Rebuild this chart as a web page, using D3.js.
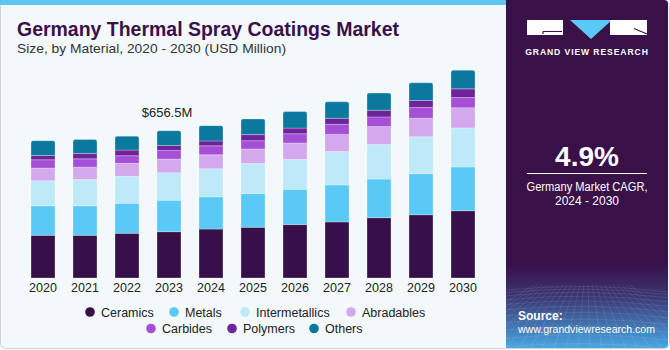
<!DOCTYPE html>
<html lang="en">
<head>
<meta charset="UTF-8">
<title>Germany Thermal Spray Coatings Market</title>
<script src="https://d3js.org/d3.v7.min.js"></script>
<style>
  body { margin: 0; background: #fff; }
  svg { display: block; font-family: "Liberation Sans", Arial, sans-serif; }
</style>
</head>
<body>
<div id="chart"></div>
<script>
// data (USD Million)
const years = ["2020", "2021", "2022", "2023", "2024", "2025", "2026", "2027", "2028", "2029", "2030"];
const seriesNames = ["Ceramics", "Metals", "Intermetallics", "Abradables", "Carbides", "Polymers", "Others"];
const ceramics       = [190, 190, 199, 206.5, 218, 226, 238, 250, 269, 282, 300];
const metals         = [132, 132, 134, 140, 144, 150, 157, 165, 172, 183, 195];
const intermetallics = [111, 117, 120, 123, 125, 134, 134, 149, 154, 164, 174];
const abradables     = [57, 55, 58, 61, 62, 65, 73, 76, 80, 83, 90];
const carbides       = [37, 37, 34, 38, 40, 37, 41, 45, 43, 48, 45];
const polymers       = [19, 24, 25, 22, 22, 27, 25, 27, 30, 31, 39];
const others         = [66, 62, 62, 66, 68, 70, 74, 73, 76, 79, 83];
const colors = ["#371049", "#5bc9f5", "#bde9f9", "#d4a8ec", "#a44fd6", "#6e2399", "#0b789e"];
const labelYear = "2023";
const labelText = "$656.5M";

const width = 670, height = 350;
const svg = d3.select("#chart").append("svg")
    .attr("width", width)
    .attr("height", height);

// background panels
svg.append("rect")
    .attr("x", 0.5).attr("y", 0.5)
    .attr("width", 669).attr("height", 348)
    .attr("rx", 5)
    .attr("fill", "#f3f8fb")
    .attr("stroke", "#cfd3d6");
svg.append("rect")
    .attr("x", 0).attr("y", 0)
    .attr("width", 506).attr("height", 5)
    .attr("fill", "#5cc8f2");

// right panel
const defs = svg.append("defs");
const grad = defs.append("linearGradient")
    .attr("id", "panelGrad")
    .attr("x1", 0).attr("y1", 0).attr("x2", 0).attr("y2", 1);
grad.append("stop").attr("offset", "0").attr("stop-color", "#3a1049");
grad.append("stop").attr("offset", "0.76").attr("stop-color", "#3a1049");
grad.append("stop").attr("offset", "0.86").attr("stop-color", "#3c3a78");
grad.append("stop").attr("offset", "1").attr("stop-color", "#48a8e2");

svg.append("path")
    .attr("d", "M506,0 H664 Q668,0 668,4 V344 Q668,348 664,348 H506 Z")
    .attr("fill", "url(#panelGrad)");

// faint perspective grid at the bottom of the panel
const gridG = svg.append("g")
    .attr("stroke", "#ffffff")
    .attr("stroke-opacity", 0.13)
    .attr("stroke-width", 0.7)
    .attr("fill", "none");
d3.range(0, 14).forEach(i => {
    const yy = 290 + i * i * 0.35 + i * 2.2;
    gridG.append("path").attr("d", `M506,${yy} Q587,${yy - 8} 668,${yy + 2}`);
});
d3.range(-6, 18).forEach(i => {
    const xb = 506 + i * 12;
    gridG.append("line").attr("x1", 587 + (xb - 587) * 0.35).attr("y1", 285).attr("x2", xb).attr("y2", 348);
});

// logo
const logo = svg.append("g");
logo.append("rect").attr("x", 527).attr("y", 20).attr("width", 36).attr("height", 15).attr("fill", "#fff");
logo.append("path").attr("d", "M543,31.5 H562 M543,31.5 V34").attr("stroke", "#3a1049").attr("stroke-width", 1.2).attr("fill", "none");
logo.append("path").attr("d", "M570,20 L612,20 L591,39 Z").attr("fill", "#5bc9f5");
logo.append("rect").attr("x", 610).attr("y", 20).attr("width", 37).attr("height", 15).attr("fill", "#fff");
logo.append("path").attr("d", "M634,28.5 L647,34").attr("stroke", "#3a1049").attr("stroke-width", 1.2);
logo.append("text")
    .attr("x", 587).attr("y", 55)
    .attr("text-anchor", "middle")
    .attr("fill", "#fff")
    .attr("font-size", 8.6)
    .attr("font-weight", "bold")
    .attr("letter-spacing", 0.9)
    .text("GRAND VIEW RESEARCH");

// CAGR block
svg.append("text")
    .attr("x", 587).attr("y", 166)
    .attr("text-anchor", "middle")
    .attr("fill", "#fff")
    .attr("font-size", 28)
    .attr("font-weight", "bold")
    .text("4.9%");
svg.append("line")
    .attr("x1", 527).attr("x2", 647)
    .attr("y1", 173.5).attr("y2", 173.5)
    .attr("stroke", "#fff").attr("stroke-width", 1);
svg.append("text")
    .attr("x", 587).attr("y", 191)
    .attr("text-anchor", "middle")
    .attr("fill", "#fff")
    .attr("font-size", 12)
    .attr("textLength", 121)
    .attr("lengthAdjust", "spacingAndGlyphs")
    .text("Germany Market CAGR,");
svg.append("text")
    .attr("x", 587).attr("y", 205)
    .attr("text-anchor", "middle")
    .attr("fill", "#fff")
    .attr("font-size", 12)
    .text("2024 - 2030");

svg.append("text")
    .attr("x", 518).attr("y", 320)
    .attr("fill", "#fff")
    .attr("font-size", 12)
    .attr("font-weight", "bold")
    .text("Source:");
svg.append("text")
    .attr("x", 518).attr("y", 333)
    .attr("fill", "#fff")
    .attr("font-size", 11.5)
    .attr("textLength", 137)
    .attr("lengthAdjust", "spacingAndGlyphs")
    .text("www.grandviewresearch.com");

// titles
svg.append("text")
    .attr("x", 17).attr("y", 36)
    .attr("fill", "#3a1049")
    .attr("font-size", 20.5)
    .attr("font-weight", "bold")
    .attr("textLength", 382)
    .attr("lengthAdjust", "spacingAndGlyphs")
    .text("Germany Thermal Spray Coatings Market");
svg.append("text")
    .attr("x", 17).attr("y", 53)
    .attr("fill", "#333")
    .attr("font-size", 13)
    .attr("textLength", 269)
    .attr("lengthAdjust", "spacingAndGlyphs")
    .text("Size, by Material, 2020 - 2030 (USD Million)");

// scales
const x = d3.scaleBand()
    .domain(years)
    .range([22, 484])
    .paddingInner(18 / 42)
    .paddingOuter(9 / 42);
const y = d3.scaleLinear()
    .domain([0, 800])
    .range([278, 98.5]);

const seriesValues = [ceramics, metals, intermetallics, abradables, carbides, polymers, others];
const table = years.map((yr, i) => {
    const row = { year: yr };
    seriesNames.forEach((s, k) => { row[s] = seriesValues[k][i]; });
    return row;
});
const stacked = d3.stack().keys(seriesNames)(table);

const barsG = svg.append("g");
stacked.forEach((layer, k) => {
    const isTop = k === stacked.length - 1;
    barsG.selectAll(null)
        .data(layer)
        .enter()
        .append("path")
        .attr("d", d => {
            const x0 = x(d.data.year), w = x.bandwidth();
            const y0 = y(d[0]), y1 = y(d[1]);
            const r = isTop ? 2 : 0;
            return `M${x0},${y0} V${y1 + r} Q${x0},${y1} ${x0 + r},${y1} H${x0 + w - r} Q${x0 + w},${y1} ${x0 + w},${y1 + r} V${y0} Z`;
        })
        .attr("fill", colors[k])
        .attr("stroke", "#ffffff")
        .attr("stroke-opacity", 0.35)
        .attr("stroke-width", 0.8);
});

// value label
const totals = table.map(r => d3.sum(seriesNames, s => r[s]));
const li = years.indexOf(labelYear);
svg.append("text")
    .attr("x", x(labelYear) + x.bandwidth() / 2 - 2)
    .attr("y", y(totals[li]) - 14)
    .attr("text-anchor", "middle")
    .attr("fill", "#222")
    .attr("font-size", 13)
    .text(labelText);

// x axis
const xAxis = d3.axisBottom(x).tickSize(0).tickPadding(5);
const axG = svg.append("g")
    .attr("transform", "translate(0,278)")
    .call(xAxis);
axG.select(".domain").remove();
axG.selectAll("text")
    .attr("font-size", 12.5)
    .attr("font-family", "'Liberation Sans', Arial, sans-serif")
    .attr("fill", "#222");

// legend
const legendPos = [
    { cx: 90, cy: 312 }, { cx: 174, cy: 312 }, { cx: 245, cy: 312 }, { cx: 351, cy: 312 },
    { cx: 151, cy: 328.5 }, { cx: 232, cy: 328.5 }, { cx: 314, cy: 328.5 }
];
const legend = svg.append("g");
seriesNames.forEach((s, k) => {
    legend.append("circle")
        .attr("cx", legendPos[k].cx).attr("cy", legendPos[k].cy)
        .attr("r", 4.8)
        .attr("fill", colors[k]);
    legend.append("text")
        .attr("x", legendPos[k].cx + 11).attr("y", legendPos[k].cy + 4.5)
        .attr("fill", "#222")
        .attr("font-size", 12.5)
        .text(s);
});
</script>
</body>
</html>
